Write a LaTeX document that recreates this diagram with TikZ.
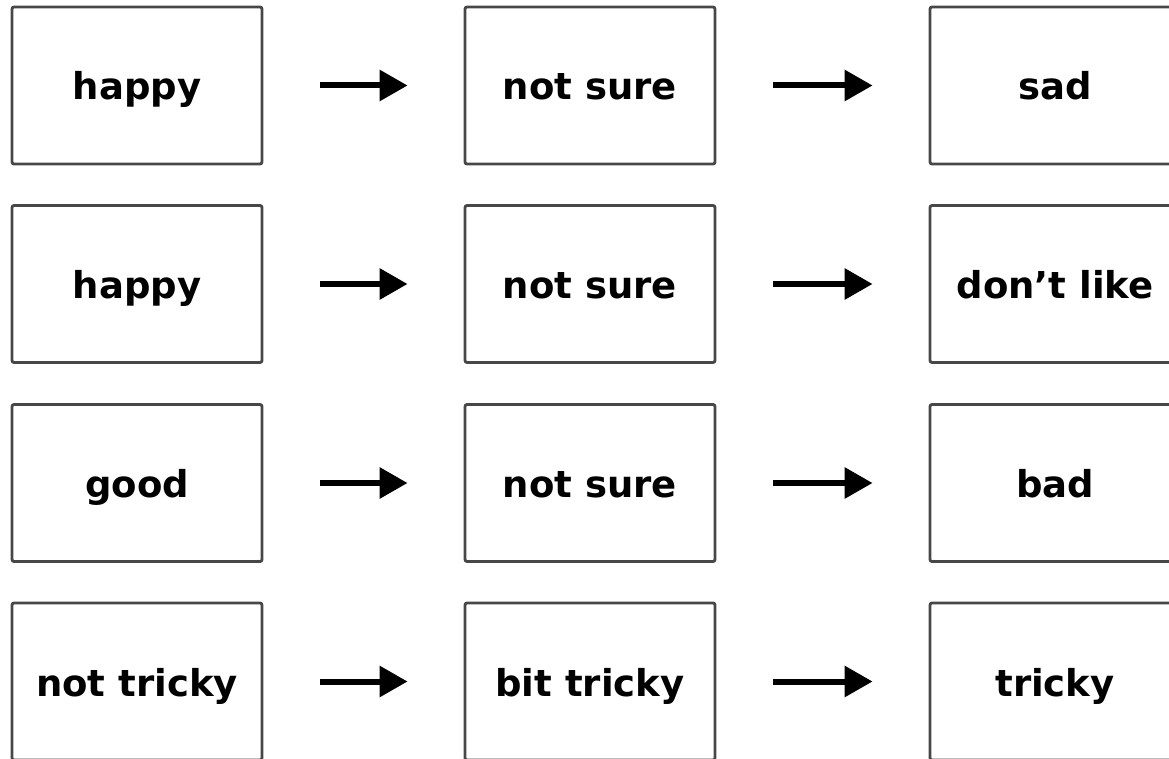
\documentclass[tikz,border=0pt]{standalone}
\usepackage{fontspec}
\setmainfont{DejaVu Sans}
\usetikzlibrary{arrows.meta}
\tikzset{
  card/.style={draw=black!72, line width=2.8pt, rounded corners=2pt, minimum width=250pt, minimum height=157pt, inner sep=0pt, text height=29pt, text depth=0pt, font=\fontsize{37}{40}\selectfont\bfseries, text=black},
  flow/.style={line width=6pt, -{Triangle[length=28pt,width=30pt]}, shorten <=57pt, shorten >=56pt}
}
\begin{document}
\begin{tikzpicture}[x=1pt,y=-1pt]
\useasboundingbox (0,0) rectangle (1169,759);
\node[card] (a1) at (137,85.5) {happy};
\node[card] (b1) at (590,85.5) {not sure};
\node[card] (c1) at (1055,85.5) {sad};
\node[card] (a2) at (137,284) {happy};
\node[card] (b2) at (590,284) {not sure};
\node[card] (c2) at (1055,284) {don’t like};
\node[card] (a3) at (137,483) {good};
\node[card] (b3) at (590,483) {not sure};
\node[card] (c3) at (1055,483) {bad};
\node[card] (a4) at (137,681.5) {not tricky};
\node[card] (b4) at (590,681.5) {bit tricky};
\node[card] (c4) at (1055,681.5) {tricky};
\foreach \r in {1,2,3,4}{
  \draw[flow] (a\r) -- (b\r);
  \draw[flow] (b\r) -- (c\r);
}
\end{tikzpicture}
\end{document}
